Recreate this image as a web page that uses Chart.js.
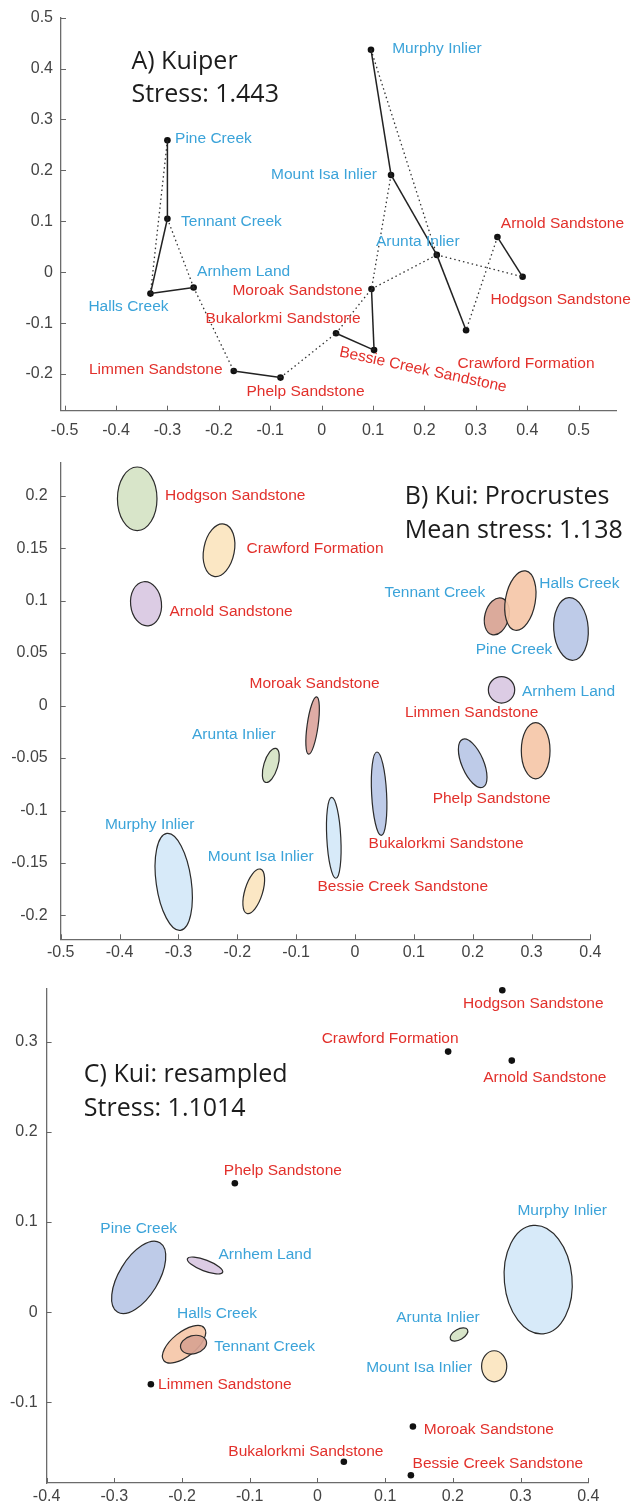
<!DOCTYPE html>
<html lang="en">
<head>
  <meta charset="UTF-8">
  <title>Kuiper / Kui MDS panels</title>
  <script src="https://cdn.jsdelivr.net/npm/chart.js"></script>
  <style>
    body { margin: 0; background: #fff; width: 634px; height: 1507px; position: relative; overflow: hidden; }
    .panel { position: absolute; left: 0; width: 634px; }
  </style>
</head>
<body>
  <div class="panel" style="top:0;height:440px"><canvas id="chartA" width="634" height="440"></canvas></div>
  <div class="panel" style="top:440px;height:530px"><canvas id="chartB" width="634" height="530"></canvas></div>
  <div class="panel" style="top:970px;height:537px"><canvas id="chartC" width="634" height="537"></canvas></div>

  <script>
    // ---- A) Kuiper : point positions ----
    const namesA = ['Murphy Inlier', 'Mount Isa Inlier', 'Pine Creek', 'Tennant Creek', 'Arnhem Land', 'Halls Creek',
      'Arunta Inlier', 'Limmen Sandstone', 'Phelp Sandstone', 'Bukalorkmi Sandstone', 'Bessie Creek Sandstone',
      'Moroak Sandstone', 'Crawford Formation', 'Arnold Sandstone', 'Hodgson Sandstone'];
    const xA = [0.096, 0.135, -0.300, -0.300, -0.249, -0.333, 0.224, -0.171, -0.080, 0.028, 0.102, 0.097, 0.281, 0.342, 0.391];
    const yA = [0.437, 0.191, 0.259, 0.105, -0.030, -0.042, 0.034, -0.194, -0.207, -0.120, -0.153, -0.033, -0.114, 0.069, -0.009];
    // joins between points (solid = nearest, dotted = second nearest)
    const solidA = [['Pine Creek', 'Tennant Creek'], ['Tennant Creek', 'Halls Creek'], ['Halls Creek', 'Arnhem Land'],
      ['Limmen Sandstone', 'Phelp Sandstone'], ['Bukalorkmi Sandstone', 'Bessie Creek Sandstone'],
      ['Bessie Creek Sandstone', 'Moroak Sandstone'], ['Murphy Inlier', 'Mount Isa Inlier'],
      ['Mount Isa Inlier', 'Arunta Inlier'], ['Arunta Inlier', 'Crawford Formation'], ['Arnold Sandstone', 'Hodgson Sandstone']];
    const dottedA = [['Pine Creek', 'Halls Creek'], ['Tennant Creek', 'Arnhem Land'], ['Arnhem Land', 'Limmen Sandstone'],
      ['Phelp Sandstone', 'Bukalorkmi Sandstone'], ['Bukalorkmi Sandstone', 'Moroak Sandstone'],
      ['Mount Isa Inlier', 'Moroak Sandstone'], ['Murphy Inlier', 'Arunta Inlier'], ['Moroak Sandstone', 'Arunta Inlier'],
      ['Arunta Inlier', 'Hodgson Sandstone'], ['Arnold Sandstone', 'Crawford Formation']];

    // ---- B) Kui: Procrustes : ellipse centres and semi-axes ----
    const namesB = ['Hodgson Sandstone', 'Crawford Formation', 'Arnold Sandstone', 'Tennant Creek', 'Halls Creek', 'Pine Creek',
      'Arnhem Land', 'Limmen Sandstone', 'Phelp Sandstone', 'Moroak Sandstone', 'Arunta Inlier', 'Bukalorkmi Sandstone',
      'Bessie Creek Sandstone', 'Murphy Inlier', 'Mount Isa Inlier'];
    const xB = [-0.370, -0.231, -0.355, 0.241, 0.281, 0.367, 0.249, 0.307, 0.200, -0.072, -0.143, 0.041, -0.036, -0.308, -0.172];
    const yB = [0.197, 0.148, 0.097, 0.085, 0.100, 0.073, 0.015, -0.043, -0.055, -0.019, -0.057, -0.084, -0.126, -0.168, -0.177];
    const rxB = [0.0336, 0.0260, 0.0262, 0.0203, 0.0254, 0.0293, 0.0224, 0.0244, 0.0186, 0.0093, 0.0119, 0.0127, 0.0119, 0.0298, 0.0151];
    const ryB = [0.0303, 0.0254, 0.0211, 0.0180, 0.0287, 0.0299, 0.0126, 0.0268, 0.0248, 0.0276, 0.0169, 0.0398, 0.0386, 0.0466, 0.0221];
    const tiltB = [0, 11, -6, 15, 10, -4, 0, 0, -23, 8, 17, -3, -3, -8, 17];

    // ---- C) Kui: resampled : fixed points and ellipses ----
    const namesCp = ['Hodgson Sandstone', 'Crawford Formation', 'Arnold Sandstone', 'Phelp Sandstone', 'Limmen Sandstone',
      'Moroak Sandstone', 'Bukalorkmi Sandstone', 'Bessie Creek Sandstone'];
    const xCp = [0.273, 0.193, 0.287, -0.122, -0.246, 0.141, 0.039, 0.138];
    const yCp = [0.357, 0.289, 0.279, 0.143, -0.080, -0.127, -0.166, -0.181];
    const namesCe = ['Pine Creek', 'Arnhem Land', 'Halls Creek', 'Tennant Creek', 'Arunta Inlier', 'Mount Isa Inlier', 'Murphy Inlier'];
    const xCe = [-0.264, -0.166, -0.197, -0.183, 0.209, 0.261, 0.326];
    const yCe = [0.0385, 0.0517, -0.0357, -0.0361, -0.0248, -0.0601, 0.036];
    const rxCe = [0.0291, 0.0279, 0.0384, 0.0196, 0.0145, 0.0186, 0.0500];
    const ryCe = [0.0451, 0.0061, 0.0134, 0.0100, 0.0058, 0.0172, 0.0604];
    const tiltCe = [31.5, 21, -38.7, -15, -30, 0, -5.3];

    // ---- tick values ----
    const ticksAx = [-0.5, -0.4, -0.3, -0.2, -0.1, 0, 0.1, 0.2, 0.3, 0.4, 0.5];
    const ticksAy = [-0.2, -0.1, 0, 0.1, 0.2, 0.3, 0.4, 0.5];
    const ticksBx = [-0.5, -0.4, -0.3, -0.2, -0.1, 0, 0.1, 0.2, 0.3, 0.4];
    const ticksBy = [-0.2, -0.15, -0.1, -0.05, 0, 0.05, 0.1, 0.15, 0.2];
    const ticksCx = [-0.4, -0.3, -0.2, -0.1, 0, 0.1, 0.2, 0.3, 0.4];
    const ticksCy = [-0.1, 0, 0.1, 0.2, 0.3];

    // ---- styling ----
    const BLUE = '#3ba3d9', RED = '#e2302b';
    const blueNames = ['Murphy Inlier', 'Mount Isa Inlier', 'Pine Creek', 'Tennant Creek', 'Arnhem Land', 'Halls Creek', 'Arunta Inlier'];
    const fillOf = {
      'Hodgson Sandstone': '#d5e3c4', 'Crawford Formation': '#fbe5bf', 'Arnold Sandstone': '#d9c8e2',
      'Tennant Creek': '#d8a393', 'Halls Creek': '#f5c7a8', 'Pine Creek': '#b8c7e6', 'Arnhem Land': '#d9c8e2',
      'Limmen Sandstone': '#f5c7a8', 'Phelp Sandstone': '#b8c7e6', 'Moroak Sandstone': '#dca59d',
      'Arunta Inlier': '#d5e3c4', 'Bukalorkmi Sandstone': '#b8c7e6', 'Bessie Creek Sandstone': '#d4e8f8',
      'Murphy Inlier': '#d4e8f8', 'Mount Isa Inlier': '#fbe5bf'
    };
    // label offsets in px from the mark: [dx, dy(baseline), rotation]
    const labelPosA = {
      'Murphy Inlier': [66, 3], 'Mount Isa Inlier': [-67, 4], 'Pine Creek': [46, 3], 'Tennant Creek': [64, 7],
      'Arnhem Land': [50, -11], 'Halls Creek': [-22, 17], 'Limmen Sandstone': [-78, 3], 'Phelp Sandstone': [25, 18],
      'Bukalorkmi Sandstone': [-53, -10], 'Moroak Sandstone': [-74, 6], 'Bessie Creek Sandstone': [48, 24, 12],
      'Arunta Inlier': [-19, -9], 'Crawford Formation': [60, 38], 'Arnold Sandstone': [65, -9], 'Hodgson Sandstone': [38, 27]
    };
    const labelPosB = {
      'Hodgson Sandstone': [98, 1], 'Crawford Formation': [96, 3], 'Arnold Sandstone': [85, 12], 'Tennant Creek': [-62, -19],
      'Halls Creek': [59, -13], 'Pine Creek': [-57, 25], 'Arnhem Land': [67, 6], 'Limmen Sandstone': [-64, -34],
      'Phelp Sandstone': [19, 40], 'Moroak Sandstone': [2, -38], 'Arunta Inlier': [-37, -26], 'Bukalorkmi Sandstone': [67, 54],
      'Bessie Creek Sandstone': [69, 53], 'Murphy Inlier': [-24, -53], 'Mount Isa Inlier': [7, -30]
    };
    const labelPosC = {
      'Hodgson Sandstone': [31, 18], 'Crawford Formation': [-58, -9], 'Arnold Sandstone': [33, 21], 'Phelp Sandstone': [48, -8],
      'Limmen Sandstone': [74, 5], 'Moroak Sandstone': [76, 7], 'Bukalorkmi Sandstone': [-38, -6], 'Bessie Creek Sandstone': [87, -7],
      'Pine Creek': [0, -44], 'Arnhem Land': [60, -7], 'Halls Creek': [33, -26], 'Tennant Creek': [71, 6],
      'Arunta Inlier': [-21, -12], 'Mount Isa Inlier': [-75, 6], 'Murphy Inlier': [24, -65]
    };

    const LABEL_FONT = "15.5px 'Liberation Sans', Arial, sans-serif";
    const TITLE_FONT = "25px 'Open Sans', sans-serif";
    Chart.defaults.font.family = "'Liberation Sans', Arial, sans-serif";

    // draws ellipses, inward tick marks, labels and the panel title
    const panelDecor = {
      id: 'panelDecor',
      beforeDatasetsDraw(chart, args, opts) {
        const ctx = chart.ctx, xs = chart.scales.x, ys = chart.scales.y;
        (opts.ellipses || []).forEach(e => {
          const cx = xs.getPixelForValue(e.x), cy = ys.getPixelForValue(e.y);
          const rx = Math.abs(xs.getPixelForValue(e.x + e.rx) - cx);
          const ry = Math.abs(ys.getPixelForValue(e.y + e.ry) - cy);
          ctx.save();
          ctx.beginPath();
          ctx.ellipse(cx, cy, rx, ry, e.tilt * Math.PI / 180, 0, Math.PI * 2);
          ctx.fillStyle = fillOf[e.name];
          ctx.globalAlpha = 0.92;
          ctx.fill();
          ctx.globalAlpha = 1;
          ctx.lineWidth = 1.2;
          ctx.strokeStyle = '#2b2b2b';
          ctx.stroke();
          ctx.restore();
        });
      },
      afterDatasetsDraw(chart, args, opts) {
        const ctx = chart.ctx, xs = chart.scales.x, ys = chart.scales.y, area = chart.chartArea;
        ctx.save();
        // inward ticks, MATLAB style
        ctx.strokeStyle = '#666';
        ctx.lineWidth = 1;
        ctx.beginPath();
        xs.ticks.forEach(t => {
          const p = Math.round(xs.getPixelForValue(t.value)) + 0.5;
          ctx.moveTo(p, area.bottom); ctx.lineTo(p, area.bottom - 5);
        });
        ys.ticks.forEach(t => {
          const p = Math.round(ys.getPixelForValue(t.value)) + 0.5;
          ctx.moveTo(area.left, p); ctx.lineTo(area.left + 5, p);
        });
        ctx.stroke();

        // labels
        ctx.font = LABEL_FONT;
        ctx.textAlign = 'center';
        ctx.textBaseline = 'alphabetic';
        (opts.labels || []).forEach(l => {
          const pos = opts.labelPos[l.name];
          const px = xs.getPixelForValue(l.x) + pos[0];
          const py = ys.getPixelForValue(l.y) + pos[1];
          ctx.fillStyle = blueNames.includes(l.name) ? BLUE : RED;
          ctx.save();
          ctx.translate(px, py);
          if (pos[2]) ctx.rotate(pos[2] * Math.PI / 180);
          ctx.fillText(l.name, 0, 0);
          ctx.restore();
        });

        // title block
        if (opts.title) {
          ctx.font = TITLE_FONT;
          ctx.fillStyle = '#1c1c1c';
          ctx.textAlign = 'left';
          const t = opts.title;
          t.lines.forEach((line, i) => {
            ctx.fillText(line, xs.getPixelForValue(t.x), ys.getPixelForValue(t.y[i]));
          });
        }
        ctx.restore();
      }
    };

    function axis(which, min, max, tickVals, size, pad) {
      return {
        type: 'linear', min, max,
        grid: { display: false, drawTicks: false },
        border: { display: true, color: '#6b6b6b', width: 1.3 },
        ticks: {
          color: '#444', padding: pad, font: { size: 16 },
          callback: v => String(+v.toFixed(2))
        },
        afterBuildTicks: s => { s.ticks = tickVals.map(v => ({ value: v })); },
        afterFit: s => { if (which === 'x') s.height = size; else s.width = size; }
      };
    }

    function baseOptions(pad, scales, decor) {
      return {
        responsive: false,
        animation: false,
        layout: { padding: pad, autoPadding: false },
        scales,
        plugins: { legend: { display: false }, tooltip: { enabled: false }, panelDecor: decor }
      };
    }

    const pt = (xsArr, ysArr) => xsArr.map((x, i) => ({ x, y: ysArr[i] }));
    const at = name => { const i = namesA.indexOf(name); return { x: xA[i], y: yA[i] }; };

    // ---------- Panel A ----------
    const edgeSets = [];
    solidA.forEach(([a, b]) => edgeSets.push({
      type: 'line', data: [at(a), at(b)], borderColor: '#222', borderWidth: 1.5, pointRadius: 0, showLine: true
    }));
    dottedA.forEach(([a, b]) => edgeSets.push({
      type: 'line', data: [at(a), at(b)], borderColor: '#333', borderWidth: 1.3, borderDash: [1.5, 3],
      pointRadius: 0, showLine: true
    }));

    new Chart(document.getElementById('chartA'), {
      type: 'scatter',
      data: {
        datasets: [...edgeSets, {
          data: pt(xA, yA), pointRadius: 3.3, pointBackgroundColor: '#111', pointBorderWidth: 0
        }]
      },
      options: baseOptions({ top: 15, right: 17.3, left: 0, bottom: 0 }, {
        x: axis('x', -0.507, 0.574, ticksAx, 29.3, 10),
        y: axis('y', -0.272, 0.5, ticksAy, 61, 8)
      }, {
        labels: namesA.map((n, i) => ({ name: n, x: xA[i], y: yA[i] })),
        labelPos: labelPosA,
        title: { lines: ['A) Kuiper', 'Stress: 1.443'], x: -0.37, y: [0.399, 0.335] }
      }),
      plugins: [panelDecor]
    });

    // ---------- Panel B ----------
    new Chart(document.getElementById('chartB'), {
      type: 'scatter',
      data: { datasets: [{ data: pt(xB, yB), pointRadius: 0 }] },
      options: baseOptions({ top: 19.3, right: 43.6, left: 0, bottom: 0 }, {
        x: axis('x', -0.5, 0.4, ticksBx, 30.7, 4),
        y: axis('y', -0.2227, 0.2315, ticksBy, 60.7, 13)
      }, {
        ellipses: namesB.map((n, i) => ({ name: n, x: xB[i], y: yB[i], rx: rxB[i], ry: ryB[i], tilt: tiltB[i] })),
        labels: namesB.map((n, i) => ({ name: n, x: xB[i], y: yB[i] })),
        labelPos: labelPosB,
        title: { lines: ['B) Kui: Procrustes', 'Mean stress: 1.138'], x: 0.0846, y: [0.192, 0.16] }
      }),
      plugins: [panelDecor]
    });

    // ---------- Panel C ----------
    new Chart(document.getElementById('chartC'), {
      type: 'scatter',
      data: {
        datasets: [
          { data: pt(xCe, yCe), pointRadius: 0 },
          { data: pt(xCp, yCp), pointRadius: 3.3, pointBackgroundColor: '#111', pointBorderWidth: 0, clip: false }
        ]
      },
      options: baseOptions({ top: 18.3, right: 45.7, left: 0, bottom: 0 }, {
        x: axis('x', -0.4, 0.4, ticksCx, 24, 4),
        y: axis('y', -0.1896, 0.3589, ticksCy, 46.6, 9)
      }, {
        ellipses: namesCe.map((n, i) => ({ name: n, x: xCe[i], y: yCe[i], rx: rxCe[i], ry: ryCe[i], tilt: tiltCe[i] })),
        labels: namesCp.map((n, i) => ({ name: n, x: xCp[i], y: yCp[i] }))
          .concat(namesCe.map((n, i) => ({ name: n, x: xCe[i], y: yCe[i] }))),
        labelPos: labelPosC,
        title: { lines: ['C) Kui: resampled', 'Stress: 1.1014'], x: -0.345, y: [0.255, 0.218] }
      }),
      plugins: [panelDecor]
    });
  </script>
</body>
</html>
